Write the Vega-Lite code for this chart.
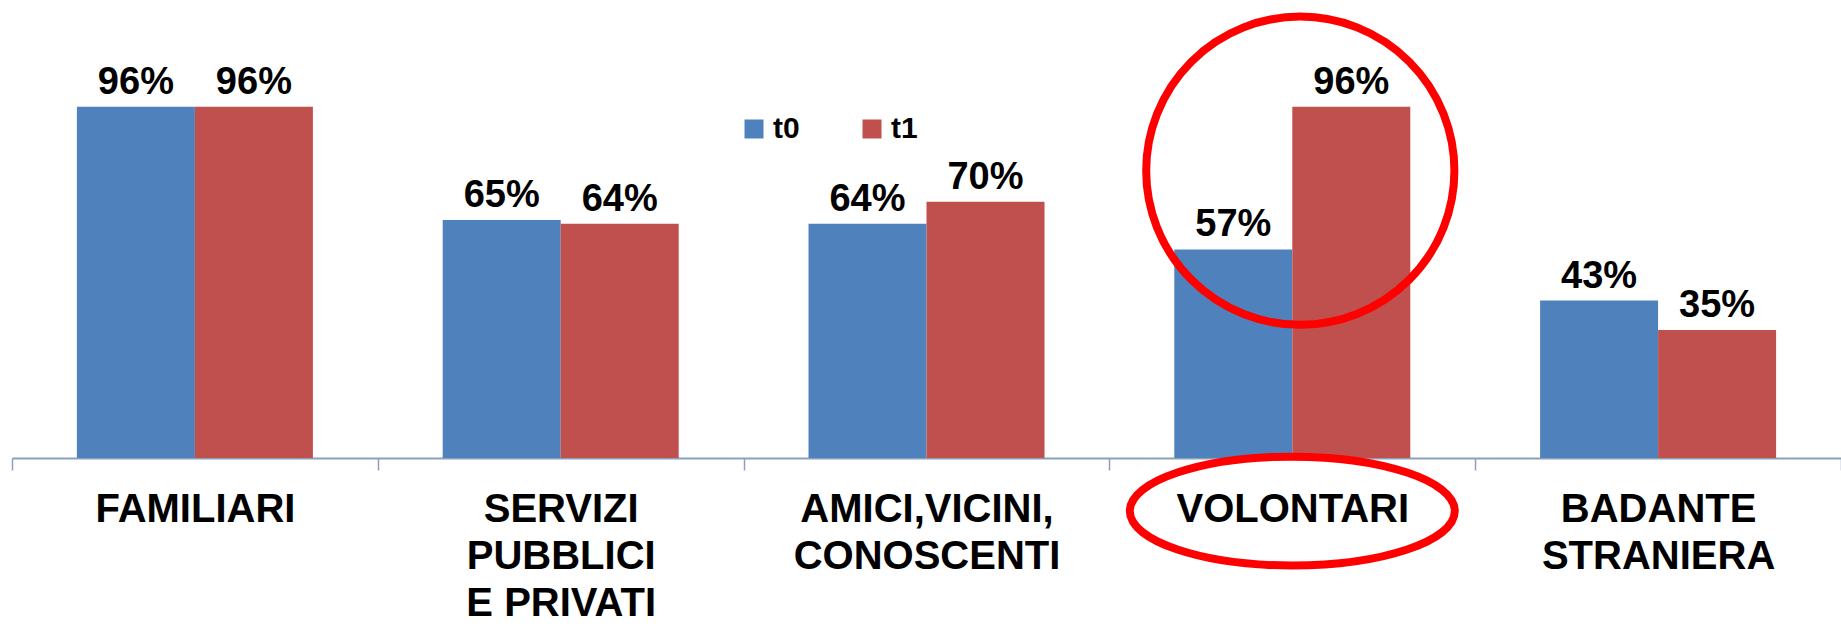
{
  "$schema": "https://vega.github.io/schema/vega-lite/v6.json",
  "autosize": {"type": "none"},
  "width": 1829,
  "height": 366,
  "padding": {"left": 12, "top": 92, "right": 0, "bottom": 168},
  "background": "white",
  "config": {"view": {"stroke": null}, "font": "Liberation Sans"},
  "datasets": {
    "bars": [
      {"categoria": "FAMILIARI", "periodo": "t0", "valore": 0.96},
      {"categoria": "FAMILIARI", "periodo": "t1", "valore": 0.96},
      {"categoria": "SERVIZI|PUBBLICI|E PRIVATI", "periodo": "t0", "valore": 0.65},
      {"categoria": "SERVIZI|PUBBLICI|E PRIVATI", "periodo": "t1", "valore": 0.64},
      {"categoria": "AMICI,VICINI,|CONOSCENTI", "periodo": "t0", "valore": 0.64},
      {"categoria": "AMICI,VICINI,|CONOSCENTI", "periodo": "t1", "valore": 0.70},
      {"categoria": "VOLONTARI", "periodo": "t0", "valore": 0.57},
      {"categoria": "VOLONTARI", "periodo": "t1", "valore": 0.96},
      {"categoria": "BADANTE|STRANIERA", "periodo": "t0", "valore": 0.43},
      {"categoria": "BADANTE|STRANIERA", "periodo": "t1", "valore": 0.35}
    ],
    "evidenzaBarre": [{"categoria": "VOLONTARI", "valore": 0.785}],
    "evidenzaEtichetta": [{"categoria": "VOLONTARI", "valore": -0.145}]
  },
  "layer": [
    {
      "data": {"name": "bars"},
      "mark": {"type": "bar"},
      "encoding": {
        "x": {
          "field": "categoria",
          "type": "nominal",
          "sort": ["FAMILIARI", "SERVIZI|PUBBLICI|E PRIVATI", "AMICI,VICINI,|CONOSCENTI", "VOLONTARI", "BADANTE|STRANIERA"],
          "scale": {"paddingInner": 0, "paddingOuter": 0},
          "axis": {
            "title": null,
            "labelAngle": 0,
            "labelExpr": "split(datum.label, '|')",
            "labelFont": "Liberation Sans",
            "labelFontSize": 40,
            "labelFontWeight": "bold",
            "labelColor": "black",
            "labelLineHeight": 47,
            "labelBaseline": "top",
            "labelPadding": 19,
            "labelLimit": 500,
            "labelOverlap": false,
            "tickBand": "extent",
            "ticks": true,
            "tickSize": 12,
            "tickColor": "#8DA0B9",
            "tickWidth": 1.5,
            "domainColor": "#8DA0B9",
            "domainWidth": 2,
            "grid": false
          }
        },
        "xOffset": {"field": "periodo", "type": "nominal", "scale": {"paddingInner": 0, "paddingOuter": 0.55}},
        "y": {"field": "valore", "type": "quantitative", "scale": {"domain": [0, 1]}, "axis": null},
        "color": {
          "field": "periodo",
          "type": "nominal",
          "scale": {"domain": ["t0", "t1"], "range": ["#4F81BD", "#C0504D"]},
          "legend": {
            "title": null,
            "orient": "none",
            "legendX": 727,
            "legendY": 22,
            "direction": "horizontal",
            "symbolType": "square",
            "symbolSize": 361,
            "symbolStrokeWidth": 0,
            "labelFont": "Liberation Sans",
            "labelFontSize": 30,
            "labelFontWeight": "bold",
            "labelColor": "black",
            "labelOffset": 4,
            "columnPadding": 57,
            "padding": 0
          }
        }
      }
    },
    {
      "data": {"name": "bars"},
      "mark": {"type": "text", "baseline": "alphabetic", "dy": -13, "fontSize": 38, "fontWeight": "bold", "font": "Liberation Sans", "color": "black"},
      "encoding": {
        "x": {"field": "categoria", "type": "nominal", "sort": ["FAMILIARI", "SERVIZI|PUBBLICI|E PRIVATI", "AMICI,VICINI,|CONOSCENTI", "VOLONTARI", "BADANTE|STRANIERA"]},
        "xOffset": {"field": "periodo", "type": "nominal"},
        "y": {"field": "valore", "type": "quantitative"},
        "text": {"field": "valore", "type": "quantitative", "format": ".0%"}
      }
    },
    {
      "data": {"name": "evidenzaBarre"},
      "mark": {"type": "point", "shape": "circle", "size": 95000, "filled": false, "stroke": "#FF0000", "strokeWidth": 8, "opacity": 1, "strokeOpacity": 1, "xOffset": 8},
      "encoding": {
        "x": {"field": "categoria", "type": "nominal", "sort": ["FAMILIARI", "SERVIZI|PUBBLICI|E PRIVATI", "AMICI,VICINI,|CONOSCENTI", "VOLONTARI", "BADANTE|STRANIERA"]},
        "y": {"field": "valore", "type": "quantitative"}
      }
    },
    {
      "data": {"name": "evidenzaEtichetta"},
      "mark": {"type": "point", "shape": "M-1,0A1,0.335 0 1,1 1,0A1,0.335 0 1,1 -1,0Z", "size": 105625, "filled": false, "stroke": "#FF0000", "strokeWidth": 8, "opacity": 1, "strokeOpacity": 1, "xOffset": 0},
      "encoding": {
        "x": {"field": "categoria", "type": "nominal", "sort": ["FAMILIARI", "SERVIZI|PUBBLICI|E PRIVATI", "AMICI,VICINI,|CONOSCENTI", "VOLONTARI", "BADANTE|STRANIERA"]},
        "y": {"field": "valore", "type": "quantitative"}
      }
    }
  ]
}
